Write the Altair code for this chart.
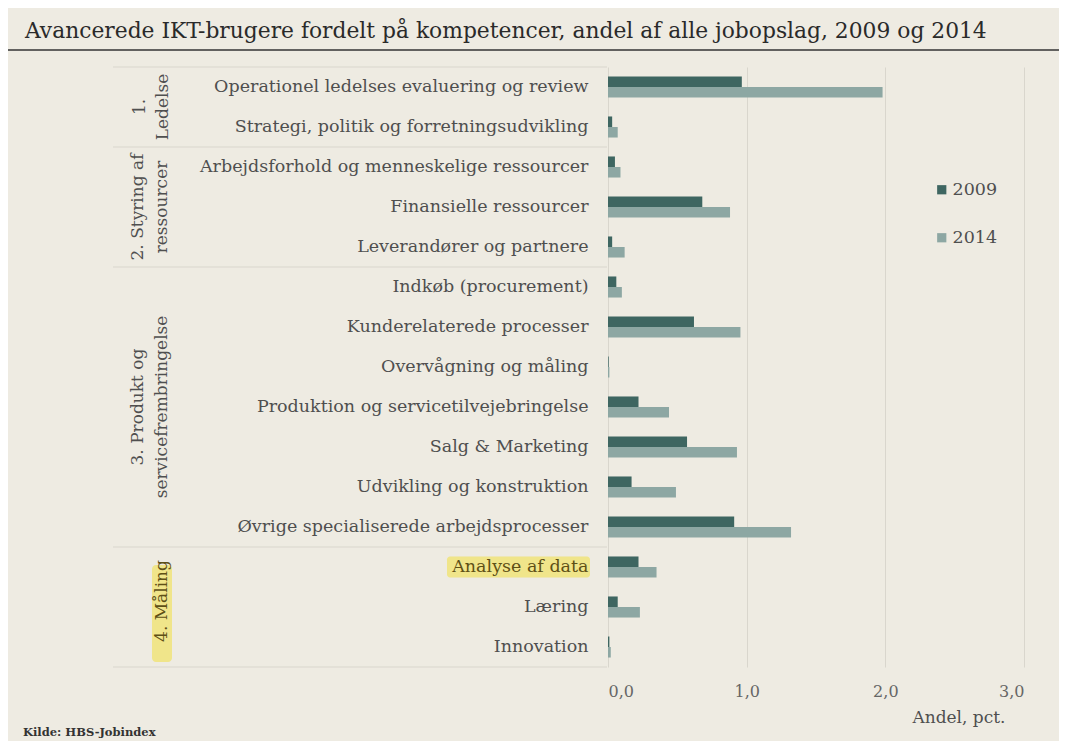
import altair as alt
import pandas as pd

# ---------------- data ----------------
categories = [
    "Operationel ledelses evaluering og review",
    "Strategi, politik og forretningsudvikling",
    "Arbejdsforhold og menneskelige ressourcer",
    "Finansielle ressourcer",
    "Leverandører og partnere",
    "Indkøb (procurement)",
    "Kunderelaterede processer",
    "Overvågning og måling",
    "Produktion og servicetilvejebringelse",
    "Salg & Marketing",
    "Udvikling og konstruktion",
    "Øvrige specialiserede arbejdsprocesser",
    "Analyse af data",
    "Læring",
    "Innovation",
]
values_2009 = [0.965, 0.03, 0.05, 0.68, 0.03, 0.06, 0.62, 0.005, 0.22, 0.57, 0.17, 0.91, 0.22, 0.07, 0.01]
values_2014 = [1.98, 0.07, 0.09, 0.88, 0.12, 0.10, 0.955, 0.01, 0.44, 0.93, 0.49, 1.32, 0.35, 0.23, 0.02]
years = ["2009", "2014"]

group_labels = ["1.\nLedelse", "2. Styring af\nressourcer", "3. Produkt og\nservicefrembringelse", "4. Måling"]
group_first = ["Operationel ledelses evaluering og review", "Arbejdsforhold og menneskelige ressourcer",
               "Indkøb (procurement)", "Analyse af data"]
group_anchor = ["Strategi, politik og forretningsudvikling", "Finansielle ressourcer",
                "Produktion og servicetilvejebringelse", "Læring"]
highlight_category = "Analyse af data"

title_text = "Avancerede IKT-brugere fordelt på kompetencer, andel af alle jobopslag, 2009 og 2014"
source_text = "Kilde: HBS-Jobindex"
x_title = "Andel, pct."
x_ticks = [0, 1, 2, 3]

# ---------------- styling ----------------
BG = "#EEEBE2"
C2009 = "#3E6661"
C2014 = "#8DA7A3"
TXT = "#4F4F4F"
GRID = "#D9D6CD"
HL = "#F0E47A"
HLTXT = "#5E5016"
FONT = "DejaVu Serif"

rows = []
for c, a, b in zip(categories, values_2009, values_2014):
    rows.append({"category": c, "year": "2009", "value": a})
    rows.append({"category": c, "year": "2014", "value": b})
df = pd.DataFrame(rows)

yscale = alt.Scale(domain=categories, paddingInner=0, paddingOuter=0)


def ydef(band=0.5):
    return alt.Y("category:N", sort=categories, scale=yscale, bandPosition=band, title=None)


bars = alt.Chart(df).mark_bar().encode(
    y=alt.Y("category:N", sort=categories, scale=yscale, title=None,
            axis=alt.Axis(domain=False, ticks=False, labelPadding=20, labelFontSize=17.5,
                          labelFont=FONT, labelLimit=520, zindex=2,
                          labelColor={"expr": "datum.value == 'Analyse af data' ? '%s' : '%s'" % (HLTXT, TXT)})),
    yOffset=alt.YOffset("year:N", scale=alt.Scale(domain=years, paddingInner=0, paddingOuter=0.9)),
    x=alt.X("value:Q", scale=alt.Scale(domain=[0, 3], nice=False),
            axis=alt.Axis(values=x_ticks, domain=False, ticks=False, grid=True, gridColor=GRID,
                          labelPadding=16, labelFontSize=16, labelFont=FONT, labelColor="#666666",
                          labelExpr="replace(format(datum.value, '.1f'), '.', ',')",
                          title=x_title, titleFont=FONT, titleFontSize=17, titleFontWeight="normal",
                          titleColor=TXT, titleAnchor="end", titleAlign="right", titleBaseline="middle",
                          titleX=397, titleY=50)),
    color=alt.Color("year:N", scale=alt.Scale(domain=years, range=[C2009, C2014]),
                    legend=alt.Legend(title=None, orient="none", legendX=325, legendY=114,
                                      symbolType="square", symbolSize=85, symbolStrokeWidth=0,
                                      labelFont=FONT, labelFontSize=17.5, labelColor=TXT,
                                      rowPadding=29, labelOffset=2, padding=0)),
)

# highlight behind "Analyse af data" label
hl_df = pd.DataFrame({"category": [highlight_category]})
hl = alt.Chart(hl_df).mark_bar(size=21, color=HL, cornerRadius=3, opacity=0.85).encode(
    y=ydef(), x=alt.value(-161), x2=alt.value(-18)
)

# group separator rules
sep_df = pd.DataFrame({"category": group_first})
seps = alt.Chart(sep_df).mark_rule(color=GRID, strokeWidth=1).encode(
    y=ydef(0), x=alt.value(-495), x2=alt.value(-1)
)
bottom_df = pd.DataFrame({"category": [categories[-1]]})
sep_bottom = alt.Chart(bottom_df).mark_rule(color=GRID, strokeWidth=1).encode(
    y=ydef(1), x=alt.value(-495), x2=alt.value(-1)
)

# group labels
gdf = pd.DataFrame({"category": group_anchor, "label": group_labels})
g1 = alt.Chart(gdf.iloc[[0]]).mark_text(angle=270, font=FONT, fontSize=17, color=TXT, lineBreak="\n",
                                        lineHeight=23, align="center", baseline="middle").encode(
    y=ydef(0), x=alt.value(-468), text="label:N")
g23 = alt.Chart(gdf.iloc[[1, 2]]).mark_text(angle=270, font=FONT, fontSize=17, color=TXT, lineBreak="\n",
                                            lineHeight=24, align="center", baseline="middle").encode(
    y=ydef(), x=alt.value(-470), text="label:N")
g4_hl = alt.Chart(pd.DataFrame({"k": [1]})).mark_rect(color=HL, cornerRadius=4, opacity=0.85).encode(
    x=alt.value(-456), x2=alt.value(-436), y=alt.value(498), y2=alt.value(595))
g4 = alt.Chart(gdf.iloc[[3]]).mark_text(angle=270, font=FONT, fontSize=17, color=HLTXT,
                                        align="center", baseline="middle", dx=6).encode(
    y=ydef(), x=alt.value(-446), text="label:N")

# title, title rule, source
one = pd.DataFrame({"k": [1]})
title = alt.Chart(one).mark_text(text=title_text, font=FONT, fontSize=21.8, color="#2A2A2A",
                                 align="left", baseline="alphabetic").encode(
    x=alt.value(-583), y=alt.value(-29))
title_rule = alt.Chart(one).mark_rule(color="#333333", strokeWidth=1.6).encode(
    x=alt.value(-600), x2=alt.value(453), y=alt.value(-17))
source = alt.Chart(one).mark_text(text=source_text, font=FONT, fontSize=11.5, fontWeight="bold",
                                  color="#333333", align="left", baseline="alphabetic").encode(
    x=alt.value(-585), y=alt.value(669))

chart = alt.layer(
    g4_hl, hl, seps, sep_bottom, bars, g1, g23, g4, title, title_rule, source
).properties(
    width=416, height=600,
    autosize=alt.AutoSizeParams(type="none"),
    padding={"left": 600, "top": 59, "right": 35, "bottom": 74},
    background=BG,
).configure_view(stroke=None)

chart.save("out.html", embed_options={"renderer": "svg", "actions": False})
